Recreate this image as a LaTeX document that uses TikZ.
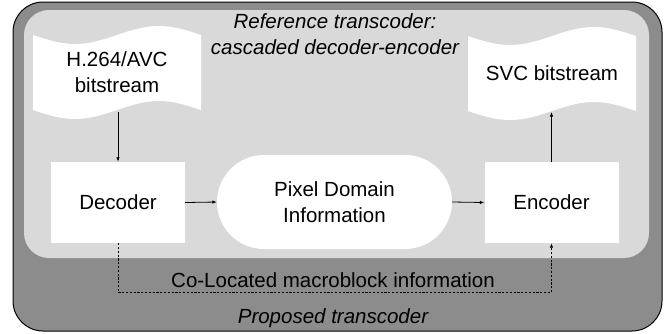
\documentclass[tikz,border=0pt]{standalone}
\usepackage{fontspec}
\setmainfont{Liberation Sans}
\usetikzlibrary{arrows.meta,shapes.misc}
\definecolor{darkband}{HTML}{8C8C8C}
\definecolor{lightpanel}{HTML}{D9D9D9}
\begin{document}
\begin{tikzpicture}[x=1pt,y=-1pt,
  txt/.style={inner sep=0pt,align=center,font=\fontsize{20.5}{26}\selectfont},
  itxt/.style={txt,font=\fontsize{20.5}{26}\selectfont\itshape},
  procbox/.style={txt,fill=white,minimum width=134pt,minimum height=81pt},
  pill/.style={txt,shape=rounded rectangle,fill=white,minimum width=235pt,minimum height=94pt},
  tape/.style={fill=white,draw=none},
  arr/.style={line width=0.8pt,-{Latex[length=4.5pt,width=3.5pt]}},
  dasharr/.style={arr,dash pattern=on 2.2pt off 1.6pt}]
\useasboundingbox (0,0) rectangle (667,333);
% panels
\draw[fill=darkband,draw=black,line width=1pt,rounded corners=30pt] (13,2) rectangle (662,331);
\fill[lightpanel,rounded corners=25pt] (24,10) rectangle (649,258);
% punched tapes
\path[tape] (33,35) sin (75,44) cos (117,35) sin (159,26) cos (201,35) -- (201,110)
  sin (159,101) cos (117,110) sin (75,119) cos (33,110) -- cycle;
\path[tape] (468,36) sin (510,45) cos (552,36) sin (594,27) cos (636,36) -- (636,111)
  sin (594,102) cos (552,111) sin (510,120) cos (468,111) -- cycle;
\node[txt] (h264) at (117,72) {H.264/AVC\\bitstream};
\node[txt] (svc) at (552,73.6) {SVC bitstream};
\coordinate (h264b) at (118,112);
\coordinate (svcb) at (551.5,112);
% texts
\node[itxt] (ref) at (335,34.6) {Reference transcoder:\\cascaded decoder-encoder};
% process nodes
\node[procbox] (dec) at (118,202.5) {Decoder};
\node[procbox] (enc) at (551.5,202.5) {Encoder};
\node[pill] (pix) at (334.5,202) {Pixel Domain\\Information};
% connectors
\draw[arr] (h264b) -- (dec.north);
\draw[arr] (dec.east) -- (pix.west);
\draw[arr] (pix.east) -- (enc.west);
\draw[arr] (enc.north) -- (svcb);
\draw[dasharr] (dec.south) -- ++(0,49) -| (enc.south);
\node[txt,anchor=base] (colo) at (333,287) {Co-Located macroblock information};
\node[itxt,anchor=base] (prop) at (333,323) {Proposed transcoder};
\end{tikzpicture}
\end{document}
